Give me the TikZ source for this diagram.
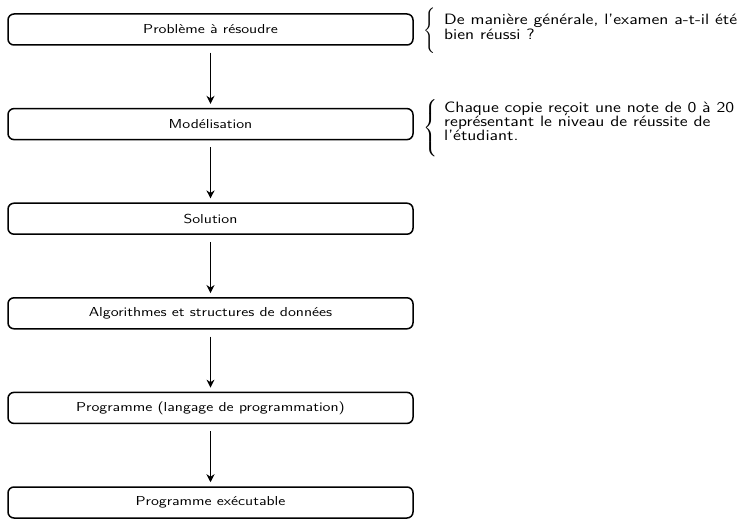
\documentclass[tikz,border=0pt]{standalone}
\usepackage{graphicx}
\usetikzlibrary{arrows.meta}
\newcommand\widetext[2]{\scalebox{#1}[1]{#2}}
\begin{document}
\begin{tikzpicture}[x=1pt,y=-1pt,
  stage/.style={draw, line width=1.5pt, rounded corners=6pt, minimum width=405pt,
    minimum height=31pt, inner sep=0pt, font=\sffamily\fontsize{13}{15}\selectfont},
  flow/.style={-{Stealth[length=8pt,width=8pt,inset=2.5pt]}, line width=1.3pt},
  brace/.style={anchor=west, inner sep=0pt},
  note/.style={anchor=base west, inner sep=0pt, font=\sffamily\fontsize{15}{15}\selectfont}]
\useasboundingbox (0,0) rectangle (745,519);
\node[stage] (p1) at (210.5,29.5) {\widetext{1.24}{Problème à résoudre}};
\node[stage] (p2) at (210.5,124.1) {\widetext{1.24}{Modélisation}};
\node[stage] (p3) at (210.5,218.7) {\widetext{1.24}{Solution}};
\node[stage] (p4) at (210.5,313.3) {\widetext{1.24}{Algorithmes et structures de données}};
\node[stage] (p5) at (210.5,407.9) {\widetext{1.24}{Programme (langage de programmation)}};
\node[stage] (p6) at (210.5,502.5) {\widetext{1.24}{Programme exécutable}};
\foreach \a/\b in {p1/p2,p2/p3,p3/p4,p4/p5,p5/p6}
  \draw[flow] ([yshift=-7pt]\a.south) -- ([yshift=4pt]\b.north);
\node[brace] (b1) at (423,31) {\scalebox{1.52}{$\Bigg\{$}};
\node[brace] (b2) at (423,128) {\scalebox{1.6}{$\left\{\vcenter{\hbox{\rule{0pt}{34pt}}}\right.$}};
\node[note] (n1) at (444,25) {\widetext{1.2}{\vtop{\baselineskip=14.5pt\lineskiplimit=-20pt
  \hbox{De manière générale, l'examen a-t-il été}\hbox{bien réussi ?}}}};
\node[note] (n2) at (444,113) {\widetext{1.2}{\vtop{\baselineskip=13.8pt\lineskiplimit=-20pt
  \hbox{Chaque copie reçoit une note de 0 à 20}\hbox{représentant le niveau de réussite de}\hbox{l'étudiant.}}}};
\end{tikzpicture}
\end{document}
